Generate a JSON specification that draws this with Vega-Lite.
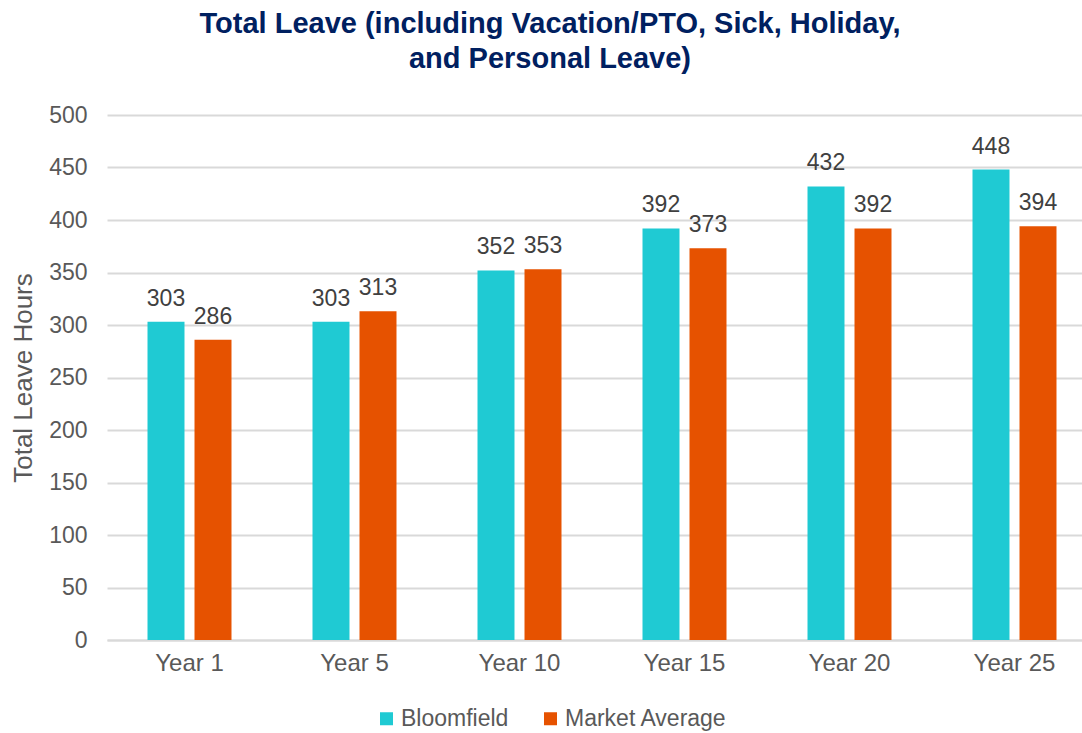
{
  "$schema": "https://vega.github.io/schema/vega-lite/v6.json",
  "autosize": {"type": "none"},
  "padding": {"left": 107, "top": 115, "right": 0, "bottom": 93},
  "width": 990,
  "height": 525,
  "background": "white",
  "config": {
    "font": "Liberation Sans",
    "view": {"stroke": null}
  },
  "title": {
    "text": ["Total Leave (including Vacation/PTO, Sick, Holiday,", "and Personal Leave)"],
    "font": "Liberation Sans",
    "fontSize": 29,
    "fontWeight": "bold",
    "color": "#002060",
    "anchor": "middle",
    "dx": -52,
    "offset": 30,
    "lineHeight": 35
  },
  "data": {
    "values": [
      {"year": "Year 1", "series": "Bloomfield", "hours": 303},
      {"year": "Year 1", "series": "Market Average", "hours": 286},
      {"year": "Year 5", "series": "Bloomfield", "hours": 303},
      {"year": "Year 5", "series": "Market Average", "hours": 313},
      {"year": "Year 10", "series": "Bloomfield", "hours": 352},
      {"year": "Year 10", "series": "Market Average", "hours": 353},
      {"year": "Year 15", "series": "Bloomfield", "hours": 392},
      {"year": "Year 15", "series": "Market Average", "hours": 373},
      {"year": "Year 20", "series": "Bloomfield", "hours": 432},
      {"year": "Year 20", "series": "Market Average", "hours": 392},
      {"year": "Year 25", "series": "Bloomfield", "hours": 448},
      {"year": "Year 25", "series": "Market Average", "hours": 394}
    ]
  },
  "encoding": {
    "x": {
      "field": "year",
      "type": "nominal",
      "sort": ["Year 1", "Year 5", "Year 10", "Year 15", "Year 20", "Year 25"],
      "scale": {"paddingInner": 0.491, "paddingOuter": 0.2455},
      "axis": {
        "title": null,
        "labelAngle": 0,
        "labelFontSize": 24,
        "labelColor": "#595959",
        "labelPadding": 11,
        "ticks": false,
        "domainColor": "#d9d9d9",
        "domainWidth": 2
      }
    },
    "xOffset": {
      "field": "series",
      "type": "nominal",
      "scale": {"paddingInner": 0.213, "paddingOuter": 0}
    },
    "y": {
      "field": "hours",
      "type": "quantitative",
      "scale": {"domain": [0, 500], "nice": false},
      "axis": {
        "title": "Total Leave Hours",
        "titleFontSize": 26,
        "titleFontWeight": "normal",
        "titleColor": "#595959",
        "titlePadding": 12,
        "labelFontSize": 23,
        "labelColor": "#595959",
        "labelPadding": 20,
        "values": [0, 50, 100, 150, 200, 250, 300, 350, 400, 450, 500],
        "ticks": false,
        "domain": false,
        "gridColor": "#d9d9d9",
        "gridWidth": 2
      }
    }
  },
  "layer": [
    {
      "mark": {"type": "bar"},
      "encoding": {
        "color": {
          "field": "series",
          "type": "nominal",
          "scale": {"domain": ["Bloomfield", "Market Average"], "range": ["#1fcad3", "#e65200"]},
          "legend": {
            "title": null,
            "orient": "none",
            "direction": "horizontal",
            "legendX": 268,
            "legendY": 592,
            "symbolType": "square",
            "symbolSize": 169,
            "symbolStrokeWidth": 0,
            "labelFontSize": 23,
            "labelColor": "#595959",
            "labelOffset": 3,
            "labelLimit": 400,
            "columnPadding": 30,
            "padding": 0
          }
        }
      }
    },
    {
      "mark": {"type": "text", "baseline": "alphabetic", "dy": -16, "fontSize": 23, "color": "#404040"},
      "encoding": {
        "text": {"field": "hours", "type": "quantitative"}
      }
    }
  ]
}
